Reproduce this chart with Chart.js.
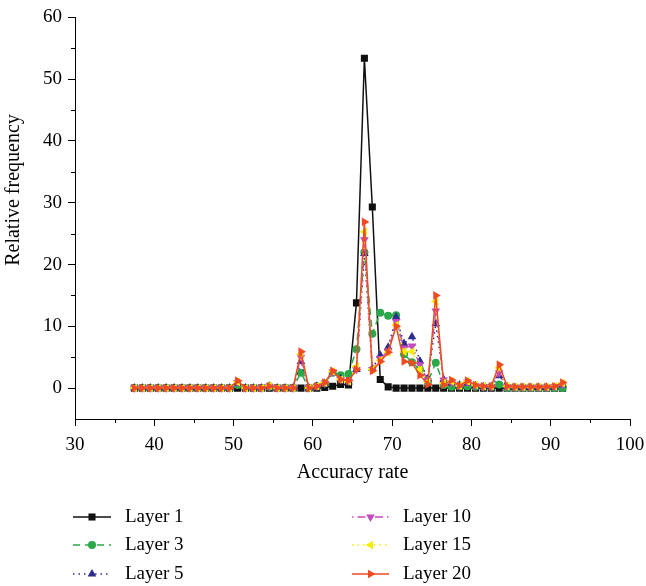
<!DOCTYPE html>
<html>
<head>
<meta charset="utf-8">
<script src="https://cdn.jsdelivr.net/npm/chart.js@4.4.1/dist/chart.umd.min.js"></script>
<style>
    html, body { margin: 0; padding: 0; background: #fff; }
    #wrap { width: 646px; height: 586px; position: relative; }
</style>
</head>
<body>
<div id="wrap"><canvas id="freqChart"></canvas></div>
<script>
// Accuracy rate (x) values
const accuracy = [
    37.5, 38.5, 39.5, 40.5, 41.5, 42.5, 43.5, 44.5, 45.5, 46.5,
    47.5, 48.5, 49.5, 50.5, 51.5, 52.5, 53.5, 54.5, 55.5, 56.5,
    57.5, 58.5, 59.5, 60.5, 61.5, 62.5, 63.5, 64.5, 65.5, 66.5,
    67.5, 68.5, 69.5, 70.5, 71.5, 72.5, 73.5, 74.5, 75.5, 76.5,
    77.5, 78.5, 79.5, 80.5, 81.5, 82.5, 83.5, 84.5, 85.5, 86.5,
    87.5, 88.5, 89.5, 90.5, 91.5
];

// Relative frequency per layer
const layer1 = [
    0, 0, 0, 0, 0, 0, 0, 0, 0, 0,
    0, 0, 0, 0, 0, 0, 0, 0, 0, 0,
    0, 0, 0, 0, 0.1, 0.3, 0.6, 0.5, 13.8, 53.4,
    29.3, 1.4, 0.2, 0, 0, 0, 0, 0, 0, 0,
    0, 0, 0, 0, 0, 0, 0, 0, 0, 0,
    0, 0, 0, 0, 0
];
const layer3 = [
    0, 0, 0, 0, 0, 0, 0, 0, 0, 0,
    0, 0, 0, 0.5, 0, 0, 0, 0.2, 0, 0,
    0, 2.5, 0, 0.3, 0.8, 2.5, 2.1, 2.3, 6.3, 22.0,
    8.8, 12.2, 11.7, 11.8, 5.5, 4.2, 3.0, 1.0, 4.1, 0.5,
    0.2, 0.3, 0.3, 0.2, 0.2, 0.2, 0.6, 0, 0, 0,
    0, 0, 0, 0, 0
];
const layer5 = [
    0, 0, 0, 0, 0, 0, 0, 0, 0, 0,
    0, 0, 0, 0.8, 0, 0, 0, 0.3, 0, 0,
    0, 4.3, 0, 0.3, 0.8, 2.5, 1.5, 1.0, 3.0, 21.8,
    3.2, 5.3, 6.6, 11.5, 7.2, 8.3, 4.4, 1.5, 10.4, 1.4,
    0.8, 0.5, 0.8, 0.4, 0.2, 0.2, 2.0, 0.2, 0.1, 0.1,
    0.1, 0.1, 0.1, 0.1, 0.5
];
const layer10 = [
    0, 0, 0, 0, 0, 0, 0, 0, 0, 0,
    0, 0, 0, 0.9, 0, 0, 0, 0.3, 0, 0,
    0, 5.0, 0, 0.3, 0.8, 2.6, 1.4, 1.1, 3.0, 24.0,
    3.0, 4.8, 6.0, 10.8, 6.5, 6.8, 3.8, 1.2, 12.5, 1.3,
    0.9, 0.4, 1.0, 0.4, 0.2, 0.2, 2.5, 0.2, 0.1, 0.1,
    0.1, 0.1, 0.1, 0.2, 0.6
];
const layer15 = [
    0, 0, 0, 0, 0, 0, 0, 0, 0, 0,
    0, 0, 0, 1.0, 0, 0, 0, 0.4, 0, 0,
    0, 5.5, 0, 0.3, 0.9, 2.7, 1.4, 1.1, 3.5, 25.3,
    3.0, 4.5, 5.8, 10.2, 5.9, 5.9, 3.0, 1.0, 14.0, 0.8,
    1.1, 0.4, 1.1, 0.5, 0.3, 0.3, 3.3, 0.3, 0.2, 0.2,
    0.2, 0.2, 0.2, 0.3, 0.8
];
const layer20 = [
    0, 0, 0, 0, 0, 0, 0, 0, 0, 0,
    0, 0, 0, 1.2, 0, 0, 0, 0.3, 0, 0,
    0, 5.9, 0, 0.3, 0.9, 2.8, 1.4, 1.2, 3.0, 26.9,
    2.8, 4.3, 5.8, 10.0, 4.3, 4.1, 2.1, 0.6, 15.0, 0.5,
    1.3, 0.4, 1.2, 0.5, 0.3, 0.3, 3.8, 0.3, 0.2, 0.2,
    0.2, 0.2, 0.2, 0.3, 0.9
];

const seriesNames = ['Layer 1', 'Layer 3', 'Layer 5', 'Layer 10', 'Layer 15', 'Layer 20'];
const yTicks = [0, 10, 20, 30, 40, 50, 60];
const xMinorTicks = [35, 45, 55, 65, 75, 85, 95];
const yMinorTicks = [5, 15, 25, 35, 45, 55];
const yTitle = 'Relative frequency';

const serif = "'Liberation Serif', 'DejaVu Serif', serif";

function toPoints(values) {
    return values.map((v, i) => ({ x: accuracy[i], y: v }));
}

// line style per layer
const styles = [
    { color: '#111111', dash: [], point: 'rect', radius: 5, rotation: 0 },
    { color: '#2ba84a', dash: [7, 5], point: 'circle', radius: 4, rotation: 0 },
    { color: '#2c2d8c', dash: [1.5, 4], point: 'triangle', radius: 5, rotation: 0 },
    { color: '#c44bbd', dash: [1.5, 4, 8, 4], point: 'triangle', radius: 5, rotation: 180 },
    { color: '#f4ee00', dash: [1.5, 4], point: 'triangle', radius: 5, rotation: 270 },
    { color: '#ef4a22', dash: [], point: 'triangle', radius: 5, rotation: 90 }
];

const allLayers = [layer1, layer3, layer5, layer10, layer15, layer20];

const datasets = allLayers.map((values, i) => ({
    label: seriesNames[i],
    data: toPoints(values),
    borderColor: styles[i].color,
    backgroundColor: styles[i].color,
    borderWidth: 1.5,
    borderDash: styles[i].dash,
    pointStyle: styles[i].point,
    pointRadius: styles[i].radius,
    pointRotation: styles[i].rotation,
    pointBorderWidth: 0,
    tension: 0,
    order: allLayers.length - i
}));

// Origin style minor ticks and the y title
const axisExtras = {
    id: 'axisExtras',
    afterDraw(chart) {
        const ctx = chart.ctx;
        const xs = chart.scales.x;
        const ys = chart.scales.y;
        ctx.save();
        ctx.strokeStyle = '#000';
        ctx.lineWidth = 1;
        xMinorTicks.forEach(v => {
            const px = Math.round(xs.getPixelForValue(v)) + 0.5;
            ctx.beginPath();
            ctx.moveTo(px, xs.top);
            ctx.lineTo(px, xs.top + 4);
            ctx.stroke();
        });
        yMinorTicks.forEach(v => {
            const py = Math.round(ys.getPixelForValue(v)) + 0.5;
            ctx.beginPath();
            ctx.moveTo(ys.right, py);
            ctx.lineTo(ys.right - 4, py);
            ctx.stroke();
        });
        // rotated y title, sits a bit above the axis middle like the original
        ctx.translate(14, 190);
        ctx.rotate(-Math.PI / 2);
        ctx.fillStyle = '#000';
        ctx.font = '20px ' + serif;
        ctx.textAlign = 'center';
        ctx.textBaseline = 'middle';
        ctx.fillText(yTitle, 0, 0);
        ctx.restore();
    }
};

// Two column legend below the axis
const columnLegend = {
    id: 'columnLegend',
    afterDraw(chart) {
        const ctx = chart.ctx;
        const cols = [{ x0: 73, x1: 111, tx: 125 }, { x0: 352, x1: 389, tx: 403 }];
        const rows = [517, 545, 574];
        ctx.save();
        chart.data.datasets.forEach((ds, i) => {
            const c = cols[Math.floor(i / 3)];
            const y = rows[i % 3];
            const st = styles[i];
            ctx.strokeStyle = st.color;
            ctx.fillStyle = st.color;
            ctx.lineWidth = 1.5;
            ctx.setLineDash(st.dash);
            ctx.beginPath();
            ctx.moveTo(c.x0, y);
            ctx.lineTo(c.x1, y);
            ctx.stroke();
            ctx.setLineDash([]);
            Chart.helpers.drawPoint(ctx, {
                pointStyle: st.point,
                radius: st.radius,
                rotation: st.rotation,
                borderWidth: 0
            }, (c.x0 + c.x1) / 2, y);
            ctx.fillStyle = '#000';
            ctx.font = '19px ' + serif;
            ctx.textBaseline = 'middle';
            ctx.textAlign = 'left';
            ctx.fillText(ds.label, c.tx, y);
        });
        ctx.restore();
    }
};

new Chart(document.getElementById('freqChart'), {
    type: 'line',
    data: { datasets: datasets },
    options: {
        responsive: true,
        maintainAspectRatio: false,
        animation: false,
        layout: { padding: { top: 0, right: 0, bottom: 101, left: 0 } },
        plugins: {
            legend: { display: false },
            tooltip: { enabled: false }
        },
        scales: {
            x: {
                type: 'linear',
                min: 30,
                max: 100,
                ticks: {
                    stepSize: 10,
                    color: '#000',
                    font: { family: serif, size: 19 },
                    padding: 8,
                    maxRotation: 0
                },
                grid: {
                    drawOnChartArea: false,
                    drawTicks: true,
                    tickLength: 7,
                    tickColor: '#000'
                },
                border: { display: true, color: '#000', width: 1 },
                title: {
                    display: true,
                    text: 'Accuracy rate',
                    color: '#000',
                    font: { family: serif, size: 20 },
                    padding: { top: 0, bottom: 0 }
                },
                afterFit: scale => {
                    scale.height = 66;
                    // let the "100" label run close to the edge, as in the original
                    scale.paddingRight = 16;
                }
            },
            y: {
                type: 'linear',
                min: -5,
                max: 60,
                afterBuildTicks: scale => {
                    scale.ticks = yTicks.map(v => ({ value: v }));
                },
                ticks: {
                    color: '#000',
                    font: { family: serif, size: 19 },
                    padding: 6
                },
                grid: {
                    drawOnChartArea: false,
                    drawTicks: true,
                    tickLength: 7,
                    tickColor: '#000'
                },
                border: { display: true, color: '#000', width: 1 },
                afterFit: scale => { scale.width = 75; }
            }
        }
    },
    plugins: [axisExtras, columnLegend]
});
</script>
</body>
</html>
